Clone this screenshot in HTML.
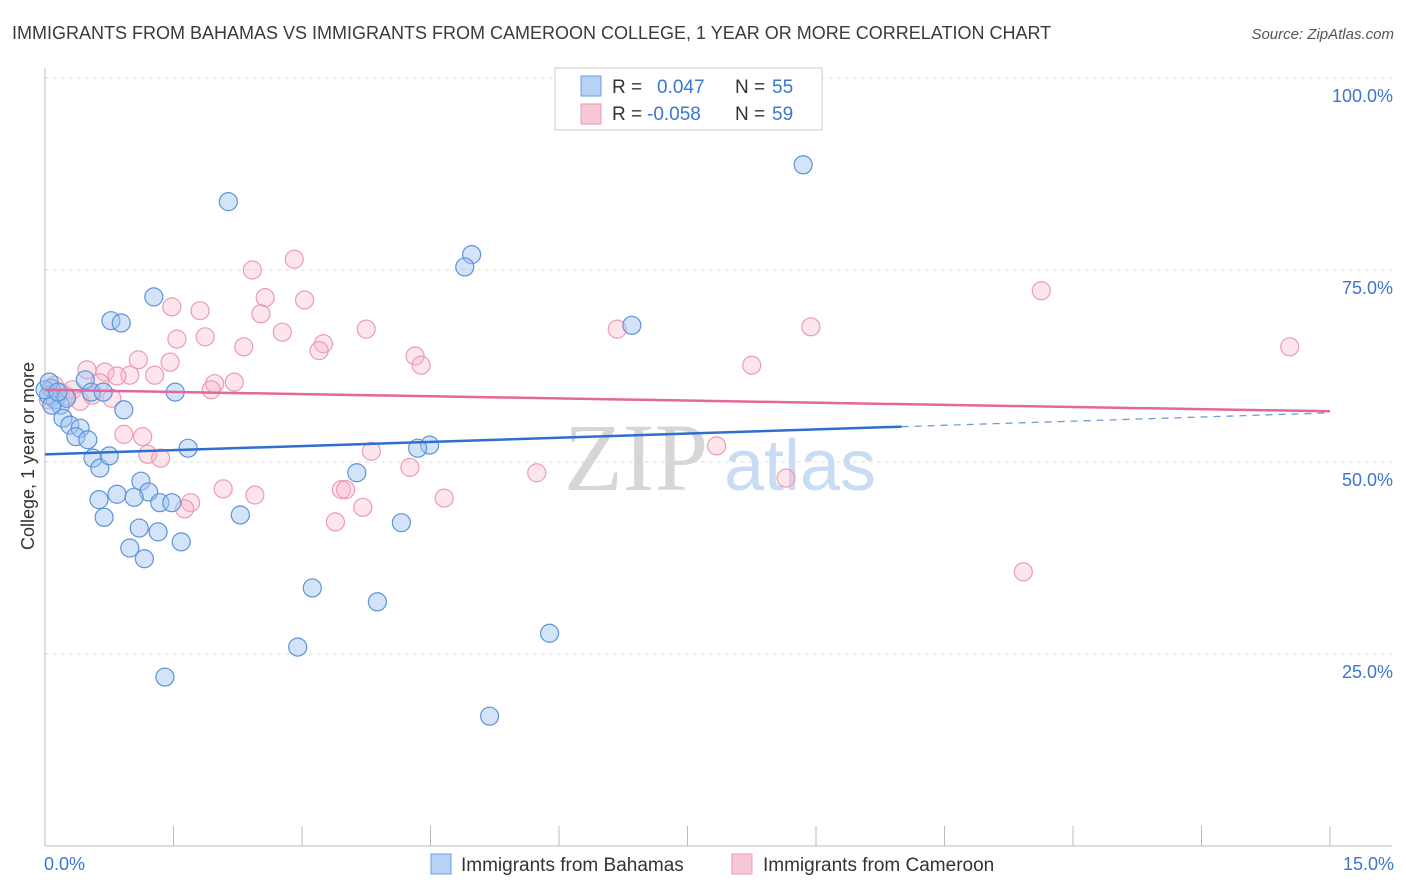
<!DOCTYPE html>
<html><head><meta charset="utf-8">
<style>
body{margin:0;background:#fff;font-family:"Liberation Sans",sans-serif;}
svg{display:block}
</style></head>
<body>
<svg id="chart" width="1406" height="892" xmlns="http://www.w3.org/2000/svg">
<text x="12" y="39" font-size="18" fill="#3a3a3a">IMMIGRANTS FROM BAHAMAS VS IMMIGRANTS FROM CAMEROON COLLEGE, 1 YEAR OR MORE CORRELATION CHART</text>
<text x="1394" y="39" font-size="15" fill="#555" text-anchor="end" font-style="italic">Source: ZipAtlas.com</text>
<g id="grid"></g>
<g id="ylabels"></g>
<line x1="45" y1="68" x2="45" y2="846" stroke="#bbb"/>
<line x1="45" y1="846" x2="1392" y2="846" stroke="#bbb"/>
<g id="xticks"></g>
<text x="44" y="870" font-size="18" fill="#3b76d1">0.0%</text>
<text x="1394" y="870" font-size="18" fill="#3b76d1" text-anchor="end">15.0%</text>
<text transform="translate(34,456) rotate(-90)" font-size="18" fill="#333" text-anchor="middle">College, 1 year or more</text>
<g>
<text x="636" y="490" font-size="96" fill="#d6d6d6" text-anchor="middle" font-family="Liberation Serif, serif">ZIP</text>
<text x="800" y="490" font-size="72" fill="#c9dcf3" text-anchor="middle">atlas</text>
</g>
<g id="pts"></g>
<g id="trends"></g>
<g>
<rect x="555" y="68" width="267" height="62" fill="#fff" stroke="#ccc"/>
<rect x="581" y="76" width="20" height="20" fill="#b8d2f5" stroke="#6a9ee0"/>
<rect x="581" y="104" width="20" height="20" fill="#f9c8d6" stroke="#e99ab4"/>
<text x="612" y="93" font-size="19" fill="#333">R = <tspan fill="#3b76d1" x="657">0.047</tspan><tspan fill="#333" x="735">N =</tspan><tspan fill="#3b76d1" x="772">55</tspan></text>
<text x="612" y="120" font-size="19" fill="#333">R = <tspan fill="#3b76d1" x="647">-0.058</tspan><tspan fill="#333" x="735">N =</tspan><tspan fill="#3b76d1" x="772">59</tspan></text>
</g>
<g>
<rect x="431" y="854" width="20" height="20" fill="#b8d2f5" stroke="#6a9ee0"/>
<text x="461" y="871" font-size="19" fill="#333">Immigrants from Bahamas</text>
<rect x="732" y="854" width="20" height="20" fill="#f9c8d6" stroke="#e99ab4"/>
<text x="763" y="871" font-size="19" fill="#333">Immigrants from Cameroon</text>
</g>
</svg>
<script>
const yTicks=[25,50,75,100];
const yTickLabels=["25.0%","50.0%","75.0%","100.0%"];
const xTicks=[0,1.5,3,4.5,6,7.5,9,10.5,12,13.5,15];
const bahamasX=[8.85,2.14,4.98,4.90,1.27,0.77,0.89,6.85,1.52,0.47,0.92,0.54,0.68,0.07,0.12,0.18,0.21,0.29,0.41,0.36,0.50,0.56,0.64,0.75,1.67,4.49,4.35,3.64,1.12,0.84,1.21,1.04,0.63,1.34,1.48,0.69,2.28,1.10,1.32,1.59,0.99,1.16,4.16,3.12,3.88,2.95,5.89,1.40,5.19,0.04,0.08,0.00,0.25,0.05,0.15];
const bahamasY=[88.7,83.9,77.0,75.4,71.5,68.4,68.1,67.8,59.1,60.7,56.8,59.1,59.1,59.6,58.1,57.4,55.7,54.8,54.4,53.3,52.9,50.5,49.2,50.8,51.8,52.2,51.8,48.6,47.5,45.8,46.1,45.4,45.1,44.7,44.7,42.8,43.1,41.4,40.9,39.6,38.8,37.4,42.1,33.6,31.8,25.9,27.7,22.0,16.9,58.7,57.4,59.4,58.3,60.4,59.1];
const cameroonX=[11.63,14.53,8.94,6.68,8.25,7.84,8.65,5.74,11.42,2.42,2.91,2.57,3.03,1.48,1.81,2.52,2.77,3.75,1.54,1.87,2.32,3.25,3.20,4.32,4.39,1.09,1.46,1.28,0.70,0.49,0.99,0.84,2.21,1.98,1.94,0.64,0.32,0.41,0.78,0.92,1.14,1.20,1.35,3.81,4.26,2.08,2.45,3.46,3.51,3.71,3.39,4.66,1.70,1.63,0.18,0.25,0.11,0.04,0.55];
const cameroonY=[72.3,65.0,67.6,67.3,62.6,52.1,47.9,48.6,35.7,75.0,76.4,71.4,71.1,70.2,69.7,69.3,66.9,67.3,66.0,66.3,65.0,65.4,64.5,63.8,62.6,63.3,63.0,61.3,61.7,62.0,61.3,61.2,60.4,60.2,59.4,60.3,59.4,57.9,58.3,53.6,53.3,51.0,50.5,51.4,49.3,46.5,45.7,46.4,46.4,44.1,42.2,45.3,44.7,43.9,59.1,58.6,60.0,58.1,58.7];
const bahamasTrend=[51.0,56.4];
const cameroonTrend=[59.4,56.6];
const NS="http://www.w3.org/2000/svg";
const xs=v=>45+v*(1285/15);
const ys=v=>846-v*7.68;
function mk(t,a){const e=document.createElementNS(NS,t);for(const k in a)e.setAttribute(k,a[k]);return e;}
const grid=document.getElementById('grid'),yl=document.getElementById('ylabels'),xt=document.getElementById('xticks');
yTicks.forEach((t,i)=>{
 const l=mk('line',{x1:45,x2:1392,y1:ys(t),y2:ys(t),stroke:'#ddd','stroke-dasharray':'4,4'});
 
 
 grid.appendChild(l);
 const tx=mk('text',{x:1393,y:ys(t)+24,'font-size':18,fill:'#3b76d1','text-anchor':'end'});
 tx.textContent=yTickLabels[i];
 
 
 yl.appendChild(tx);
});
xTicks.forEach(t=>{
 const l=mk('line',{x1:xs(t),x2:xs(t),y1:826,y2:846,stroke:'#bbb'});
 
 
 xt.appendChild(l);
});
const pts=document.getElementById('pts');
cameroonX.forEach((x,i)=>{
 const c=mk('circle',{cx:xs(x),cy:ys(cameroonY[i]),r:9,fill:'rgba(248,180,200,0.35)',stroke:'#eb9bb6','stroke-width':1.2});
 
 
 pts.appendChild(c);
});
bahamasX.forEach((x,i)=>{
 const c=mk('circle',{cx:xs(x),cy:ys(bahamasY[i]),r:9,fill:'rgba(160,196,240,0.45)',stroke:'#5b93d9','stroke-width':1.2});
 
 
 pts.appendChild(c);
});
const tr=document.getElementById('trends');
const by=x=>bahamasTrend[0]+(bahamasTrend[1]-bahamasTrend[0])*x/15;
let l1=mk('line',{x1:xs(0),y1:ys(by(0)),x2:xs(10),y2:ys(by(10)),stroke:'#2f6fd0','stroke-width':2.5});


tr.appendChild(l1);
let l2=mk('line',{x1:xs(10),y1:ys(by(10)),x2:xs(15),y2:ys(by(15)),stroke:'#6a9ee0','stroke-width':1.3,'stroke-dasharray':'7,6'});


tr.appendChild(l2);
let l3=mk('line',{x1:xs(0),y1:ys(cameroonTrend[0]),x2:xs(15),y2:ys(cameroonTrend[1]),stroke:'#e2679a','stroke-width':2.5});


tr.appendChild(l3);
</script>
</body></html>
